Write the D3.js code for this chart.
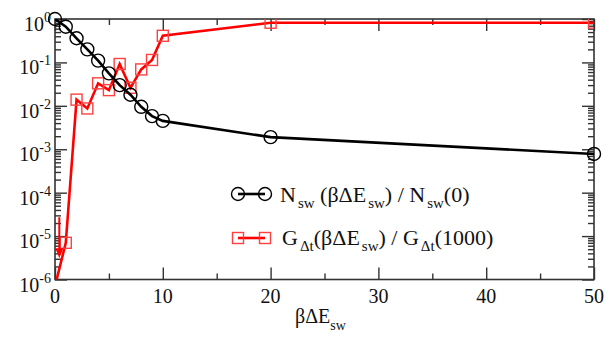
<!DOCTYPE html>
<html><head><meta charset="utf-8">
<script src="https://cdn.jsdelivr.net/npm/d3@7"></script>
<style>html,body{margin:0;padding:0;background:#fff;}svg{display:block;}</style>
</head><body>
<script>
// ---- data ----
const nswX = [0,1,2,3,4,5,6,7,8,9,10,20,50];
const nswY = [1,0.665,0.36,0.2,0.11,0.056,0.030,0.018,0.0095,0.0058,0.0045,0.0019,0.00078];
const gX = [0,1,2,3,4,5,6,7,8,9,10,20,50];
const gY = [7e-7,7e-6,0.0139,0.0087,0.033,0.023,0.092,0.026,0.069,0.114,0.41,0.82,0.82];
const errX = [0.4];
const errHigh = [2.7e-5];
const errLow = [3.1e-6];
const xTicksMajor = [0,10,20,30,40,50];
const xTicksMinor = [5,15,25,35,45];
const yExponents = [0,-1,-2,-3,-4,-5,-6];
const legendLabels = ["N_sw (βΔE_sw) / N_sw(0)", "G_Δt(βΔE_sw) / G_Δt(1000)"];

const W=616,H=344;
const FONT="Liberation Serif";
const svg=d3.select("body").append("svg").attr("width",W).attr("height",H);
const x=d3.scaleLinear().domain([0,50]).range([55,594]);
const y=d3.scaleLog().domain([1e-6,1]).range([279.5,19]);

svg.append("defs").append("clipPath").attr("id","clip").append("rect")
  .attr("x",x(0)).attr("y",y(1)).attr("width",x(50)-x(0)).attr("height",y(1e-6)-y(1));

const axisCol="#333";
svg.append("rect").attr("x",x(0)).attr("y",y(1)).attr("width",x(50)-x(0)).attr("height",y(1e-6)-y(1))
  .attr("fill","none").attr("stroke",axisCol).attr("stroke-width",1.6);

function styleAxis(g){g.select(".domain").remove();g.selectAll("line").attr("stroke",axisCol).attr("stroke-width",1.4);g.selectAll("text").remove();}
const yMinor=[];
for(let e=-6;e<0;e++){for(let k=2;k<=9;k++)yMinor.push(k*Math.pow(10,e));}
const yMajor=yExponents.map(e=>Math.pow(10,e));
svg.append("g").attr("transform",`translate(${x(0)},0)`).call(d3.axisRight(y).tickValues(yMajor).tickSize(12)).call(styleAxis);
svg.append("g").attr("transform",`translate(${x(0)},0)`).call(d3.axisRight(y).tickValues(yMinor).tickSize(6)).call(styleAxis);
svg.append("g").attr("transform",`translate(${x(50)},0)`).call(d3.axisLeft(y).tickValues(yMajor).tickSize(12)).call(styleAxis);
svg.append("g").attr("transform",`translate(${x(50)},0)`).call(d3.axisLeft(y).tickValues(yMinor).tickSize(6)).call(styleAxis);
svg.append("g").attr("transform",`translate(0,${y(1e-6)})`).call(d3.axisTop(x).tickValues(xTicksMajor).tickSize(12)).call(styleAxis);
svg.append("g").attr("transform",`translate(0,${y(1e-6)})`).call(d3.axisTop(x).tickValues(xTicksMinor).tickSize(6)).call(styleAxis);
svg.append("g").attr("transform",`translate(0,${y(1)})`).call(d3.axisBottom(x).tickValues(xTicksMajor).tickSize(12)).call(styleAxis);
svg.append("g").attr("transform",`translate(0,${y(1)})`).call(d3.axisBottom(x).tickValues(xTicksMinor).tickSize(6)).call(styleAxis);

const texts=svg.append("g").attr("class","labels");

yExponents.forEach(e=>{
  const t=texts.append("text").attr("x",51).attr("y",y(Math.pow(10,e))+12)
    .attr("text-anchor","end").style("font-family",FONT).attr("font-size",20).attr("fill","#111");
  t.append("tspan").text("10");
  t.append("tspan").attr("font-size",14).attr("dy",-9).text(e===0?"0":"-"+(-e));
});
xTicksMajor.forEach(v=>{
  texts.append("text").attr("x",x(v)).attr("y",303).attr("text-anchor","middle")
    .style("font-family",FONT).attr("font-size",20).attr("fill","#111").text(String(v));
});
const xt=texts.append("text").attr("x",x(25)-4).attr("y",323).attr("text-anchor","middle")
  .style("font-family",FONT).attr("font-size",20).attr("fill","#111");
xt.append("tspan").text("βΔE");
xt.append("tspan").attr("font-size",14).attr("dy",7).text("sw");

// series
const plot=svg.append("g").attr("clip-path","url(#clip)");
const nsw=nswX.map((v,i)=>[v,nswY[i]]);
const gg=gX.map((v,i)=>[v,gY[i]]);
const line=d3.line().x(d=>x(d[0])).y(d=>y(d[1]));
plot.append("path").datum(gg).attr("d",line).attr("fill","none").attr("stroke","#ff0000").attr("stroke-width",2.6);
plot.selectAll("rect.g").data(gg).enter().append("rect").attr("class","g")
  .attr("x",d=>x(d[0])-5.5).attr("y",d=>y(d[1])-5.5).attr("width",11).attr("height",11)
  .attr("fill","none").attr("stroke","#ff4040").attr("stroke-width",1.4);
errX.forEach((v,i)=>{
  plot.append("line").attr("x1",x(v)).attr("x2",x(v)).attr("y1",y(errHigh[i])).attr("y2",y(errLow[i])-6)
    .attr("stroke","#ff0000").attr("stroke-width",2);
  const ax=x(v),ay=y(errLow[i]);
  plot.append("path").attr("d",`M${ax-4},${ay-10}L${ax+4},${ay-10}L${ax},${ay}Z`).attr("fill","#ff0000");
});
plot.append("path").datum(nsw).attr("d",line).attr("fill","none").attr("stroke","#000").attr("stroke-width",2.6);
svg.selectAll("circle.n").data(nsw).enter().append("circle").attr("class","n")
  .attr("cx",d=>x(d[0])).attr("cy",d=>y(d[1])).attr("r",6.5)
  .attr("fill","none").attr("stroke","#000").attr("stroke-width",1.4);

function richText(sel,str){
  const parts=str.split(/(_[^ (]+)/);
  let sub=false;
  parts.forEach(p=>{
    if(!p)return;
    if(p[0]==="_"){
      const body=p.slice(1).replace(/\)$/,"");
      sel.append("tspan").attr("font-size",15).attr("dy",6).attr("dx",2).text(body);
      sub=true;
      if(p.endsWith(")")){sel.append("tspan").attr("dy",-6).text(")");sub=false;}
    } else {
      sel.append("tspan").attr("dy",sub?-6:0).text(p);
      sub=false;
    }
  });
}
const lg=svg.append("g");
lg.append("line").attr("x1",238).attr("x2",265).attr("y1",194).attr("y2",194).attr("stroke","#000").attr("stroke-width",2.6);
[238,265].forEach(cx=>lg.append("circle").attr("cx",cx).attr("cy",194).attr("r",6.5).attr("fill","none").attr("stroke","#000").attr("stroke-width",1.4));
richText(lg.append("text").attr("x",280).attr("y",202).style("font-family",FONT).attr("font-size",22).attr("fill","#111"),legendLabels[0]);
lg.append("line").attr("x1",238).attr("x2",265).attr("y1",238).attr("y2",238).attr("stroke","#ff0000").attr("stroke-width",2.6);
[238,265].forEach(cx=>lg.append("rect").attr("x",cx-5.5).attr("y",238-5.5).attr("width",11).attr("height",11).attr("fill","none").attr("stroke","#ff4040").attr("stroke-width",1.4));
richText(lg.append("text").attr("x",282).attr("y",245).style("font-family",FONT).attr("font-size",22).attr("fill","#111"),legendLabels[1]);
</script>
</body></html>
